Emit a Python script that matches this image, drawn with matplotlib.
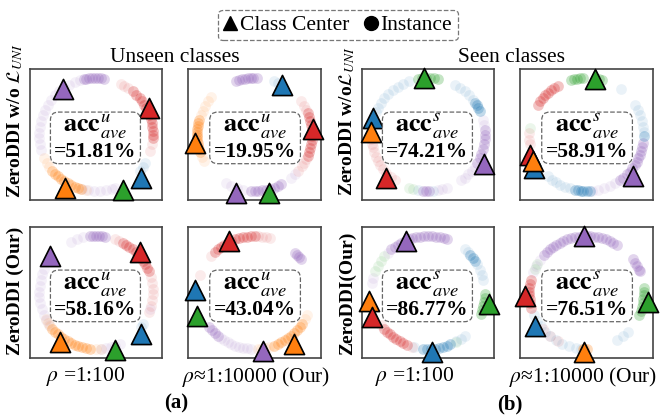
import matplotlib
matplotlib.use("Agg")
import matplotlib.pyplot as plt
import numpy as np
from matplotlib.lines import Line2D
from matplotlib.patches import FancyBboxPatch

plt.rcParams['font.family'] = ['Liberation Serif', 'DejaVu Serif']
plt.rcParams['mathtext.fontset'] = 'stix'

# ---------------- data ----------------
COLORS = {'blue': '#1f77b4', 'orange': '#ff7f0e', 'green': '#2ca02c',
          'red': '#d62728', 'purple': '#9467bd'}

panel_acc = ['51.81', '19.95', '74.21', '58.91', '58.16', '43.04', '86.77', '76.51']
panel_sup = ['u', 'u', 's', 's', 'u', 'u', 's', 's']

# class centres: (class, angle in degrees, radius)
centers_0 = [('purple', 126, 1.00), ('red', 27, 1.04), ('blue', -44, 1.10), ('green', -64, 1.10), ('orange', -120, 1.10)]
centers_1 = [('blue', 61, 1.00), ('red', 5, 1.02), ('orange', 188, 1.05), ('purple', -107, 1.08), ('green', -76, 1.06)]
centers_2 = [('green', 94, 1.00), ('blue', 163, 1.02), ('orange', 177, 1.01), ('red', -134, 1.07), ('purple', -28, 1.12)]
centers_3 = [('green', 81, 1.00), ('blue', -147.5, 1.09), ('red', -160, 1.04), ('orange', -153, 1.04), ('purple', -42, 1.09)]
centers_4 = [('purple', 141, 1.03), ('red', 42.5, 1.06), ('blue', -43, 1.07), ('green', -71.7, 1.08), ('orange', -125.5, 1.08)]
centers_5 = [('red', 116, 1.02), ('blue', 178, 1.04), ('green', -158, 1.09), ('purple', -81.5, 1.04), ('orange', -52.7, 1.15)]
centers_6 = [('purple', 113, 1.00), ('green', -11, 1.09), ('orange', -172, 1.05), ('red', -156, 1.08), ('blue', -86, 1.06)]
centers_7 = [('purple', 92, 1.00), ('green', -9, 1.09), ('red', -177, 1.07), ('blue', -146.7, 1.07), ('orange', -92, 1.06)]

# instance angles (degrees): dense clusters and faint spread
dense_0 = {'purple': [82, 85, 88, 91, 94, 97, 100, 102],
           'red': [50, 45, 40, 36, 32, 28, 24, 20, 16, 12, 8, 4, 0, -4],
           'orange': [-140, -136, -132, -128, -124, -120, -116, -112, -108, -105]}
faint_0 = {'purple': [106, 112, 118, 124, 130, 136, 142, 148, 154, 160, 166, 172, 178, 184, 190, 196,
                      -104, -98, -92, -86, -80, -74, -70],
           'red': [64, 60, 56, -10, -17],
           'orange': [-155, -150, -145, -100],
           'blue': [-30, -35, -40]}

dense_1 = {'purple': [88, 91, 94, 97, 100, 103, 106, 109, -94, -90, -86, -82, -78, -74, -70, -66, -62],
           'red': [22, 18, 14, 10, 6, 2, -2, -6, -10, -14, -18, -22],
           'orange': [165, 168, 171, 174, 177, 180, 183, 186, 189, 192, 195, 198]}
faint_1 = {'purple': [-120, -114, -108, -102, -45, -50],
           'red': [36, 30, 26, -26, -30, -34, -40],
           'orange': [139, 144, 150, 155, 160, 203, 208],
           'blue': [66, 70]}

dense_2 = {'green': [80, 84, 88, 92, 96, 100],
           'purple': [5, 0, -5, -10, -15, -20, -25, -30, -95, -92, -89],
           'blue': [25, 28, 31, 34]}
faint_2 = {'blue': [62, 56, 50, 44, 38, 110, 116, 122, 128, 134, 140, 146, 152, 157, -100, -85],
           'purple': [15, 10, -35, -40, -45, -50, -54, -71, -76, -80],
           'red': [-167, -162, -157, -152, -147, -142, -137, -131, -126, 185, 190],
           'green': [-110, -105]}

dense_3 = {'green': [94, 97, 100, 103, 106, 74, 77],
           'red': [120, 124, 128, 132, 136, 140, 144, 148],
           'purple': [-9, -13, -17, -21, -25, -29, -33, -37, -41, -45, -50, -54],
           'blue': [-87, -90, -93, -96, -99, -102, -2]}
faint_3 = {'blue': [53, 32, 26, 20, 14, 8, 3, -107, -112, -117, -122, -127, -132],
           'purple': [-60, -66, -72, -78, -84],
           'green': [173],
           'red': [-174, -170, 178]}

dense_4 = {'purple': [81, 84, 87, 90, 93, 96],
           'red': [62, 58, 54, 50, 46, 42, 38, 34, 30, 26, 22],
           'orange': [-140, -136, -132, -128, -124, -120, -116, -112, -108, -104, -100, -96]}
faint_4 = {'purple': [103, 110, 116, 155, 161, 167, 173, 179, 185, 191, 197, 203, 209, 215,
                      -17, -65, -70, -75, -80, -85],
           'red': [70, 66, 16, 10, 4, -2, -8, -14, -20],
           'orange': [-152, -147, -144, -90, -85],
           'blue': [-34, -38]}

dense_5 = {'red': [90, 94, 98, 102, 106, 110, 114, 118, 122, 126, 130, 134],
           'purple': [36, 39, 42, 45, -142, -138, -134, -130],
           'orange': [-70, -66, -62, -58, -54, -50, -46, -42, -38, -34]}
faint_5 = {'red': [140, 74, 78, 82, 86, 162],
           'purple': [-126, -122, -118, -114, -110, -106, -102, -98, -94],
           'orange': [-87, -83, -79, -75, -28, -24]}

dense_6 = {'purple': [70, 74, 78, 82, 86, 90, 94, 98, 102, 106, 110, 114, 118, 122, 126, 130],
           'blue': [42, 38, 34, -95, -91, -87, -83, -79, -75, -71, -67],
           'red': [-140, -136, -132, -128, -124, -120, -116, -112],
           'green': [-2, -6, -10, -14, -18, -22]}
faint_6 = {'blue': [50, 46, 30, 24, 18, 13, -60, -55, -50, -104],
           'green': [140, 146, 152, 158, -61],
           'purple': [135, 165, 170],
           'red': [-106, -145]}

dense_7 = {'purple': [58, 62, 66, 70, 74, 78, 82, 86, 90, 94, 98, 102, 106, 110, 114, 118, 122, 126,
                      130, 134, 138, 36, 32, 28, 24, 22],
           'green': [5, 1, -3, -7, -11, -15, -19, -23],
           'red': [167, 171, 175, 179, 183, 187, 191, 196],
           'orange': [-94, -92, -90]}
faint_7 = {'purple': [145, 152, 159],
           'blue': [-44, -51, -58, -157, -150, -143, -136, -129, -122, -115, -108, -101, -96],
           'red': [-140, -130, -120],
           'green': [155, 150]}

centers_all = [centers_0, centers_1, centers_2, centers_3, centers_4, centers_5, centers_6, centers_7]
dense_all = [dense_0, dense_1, dense_2, dense_3, dense_4, dense_5, dense_6, dense_7]
faint_all = [faint_0, faint_1, faint_2, faint_3, faint_4, faint_5, faint_6, faint_7]

col_titles = ['Unseen classes', 'Seen classes']
bottom_labels = [r'$\rho$ =1:100', r'$\rho$≈1:10000 (Our)', r'$\rho$ =1:100', r'$\rho$≈1:10000 (Our)']

# ---------------- figure ----------------
W, H = 661, 418
fig = plt.figure(figsize=(W / 100, H / 100), dpi=100)

def fx(x):
    return x / W

def fy(y):
    return 1 - y / H

col_x = [(30, 162), (188, 321), (362, 494), (520, 653)]
row_y = [(69, 200), (227, 358)]
LIM = 1.16
PX = 2 * LIM / 132.0  # data units per pixel

for i in range(8):
    r, c = divmod(i, 4)
    x0, x1 = col_x[c]
    y0, y1 = row_y[r]
    ax = fig.add_axes([fx(x0), fy(y1), (x1 - x0) / W, (y1 - y0) / H])
    ax.set_xlim(-LIM, LIM)
    ax.set_ylim(-LIM, LIM)
    ax.set_xticks([])
    ax.set_yticks([])
    for sp in ax.spines.values():
        sp.set_color('#444444')
        sp.set_linewidth(1.2)
    for cls, angs in faint_all[i].items():
        a = np.radians(angs)
        ax.scatter(np.cos(a), np.sin(a), s=60, color=COLORS[cls], alpha=0.09, lw=0, zorder=2)
    for cls, angs in dense_all[i].items():
        a = np.radians(angs)
        ax.scatter(np.cos(a), np.sin(a), s=60, color=COLORS[cls], alpha=0.27, lw=0, zorder=3)
    for cls, ang, rad in centers_all[i]:
        a = np.radians(ang)
        ax.scatter([rad * np.cos(a)], [rad * np.sin(a)], s=210, marker='^', color=COLORS[cls],
                   edgecolor='black', lw=1.2, zorder=6, clip_on=False)
    # central dashed box with accuracy
    bx, by = 0.01 * (1 if c % 2 else -1), -0.06
    bw, bh = 90 * PX, 52 * PX
    box = FancyBboxPatch((bx - bw / 2, by - bh / 2), bw, bh,
                         boxstyle='round,pad=0,rounding_size=0.14',
                         fc='white', ec='#666666', ls='--', lw=0.9, zorder=7)
    ax.add_patch(box)
    ax.text(bx, by + 6 * PX, r'$\mathbf{acc}^{%s}_{ave}$' % panel_sup[i], ha='center',
            va='baseline', fontsize=19, zorder=8)
    ax.text(bx, by - 19 * PX, '=' + panel_acc[i] + '%', ha='center', va='baseline',
            fontsize=15.5, fontweight='bold', zorder=8)

# column titles
fig.text(fx(175), fy(57), col_titles[0], ha='center', va='center', fontsize=15.5)
fig.text(fx(512), fy(57), col_titles[1], ha='center', va='center', fontsize=15.5)

# row labels
fig.text(fx(15), fy(121), r'ZeroDDI w/o $\mathcal{L}_{UNI}$', rotation=90, ha='center', va='center',
         fontsize=14, fontweight='bold')
fig.text(fx(15), fy(291), 'ZeroDDI (Our)', rotation=90, ha='center', va='center',
         fontsize=14, fontweight='bold')
fig.text(fx(347), fy(121), r'ZeroDDI w/o$\mathcal{L}_{UNI}$', rotation=90, ha='center', va='center',
         fontsize=14, fontweight='bold')
fig.text(fx(347), fy(293), 'ZeroDDI(Our)', rotation=90, ha='center', va='center',
         fontsize=14, fontweight='bold')

# bottom labels
for xc, lab in zip([86, 256, 415, 583], bottom_labels):
    fig.text(fx(xc), fy(377), lab, ha='center', va='center', fontsize=15.5)
fig.text(fx(176), fy(403), '(a)', ha='center', va='center', fontsize=15, fontweight='bold')
fig.text(fx(510), fy(404), '(b)', ha='center', va='center', fontsize=15, fontweight='bold')

# legend
handles = [Line2D([], [], marker='^', color='black', ls='none', markersize=10),
           Line2D([], [], marker='o', color='black', ls='none', markersize=10)]
leg = fig.legend(handles, ['Class Center', 'Instance'], loc='center',
                 bbox_to_anchor=(fx(338), fy(25)), ncol=2, fontsize=15.5, frameon=True,
                 fancybox=True, handlelength=0.6, handletextpad=0.15, columnspacing=0.7,
                 borderpad=0.25, edgecolor='#555555')
leg.get_frame().set_linestyle('--')
leg.get_frame().set_linewidth(0.9)

fig.savefig('out.png', dpi=100)
